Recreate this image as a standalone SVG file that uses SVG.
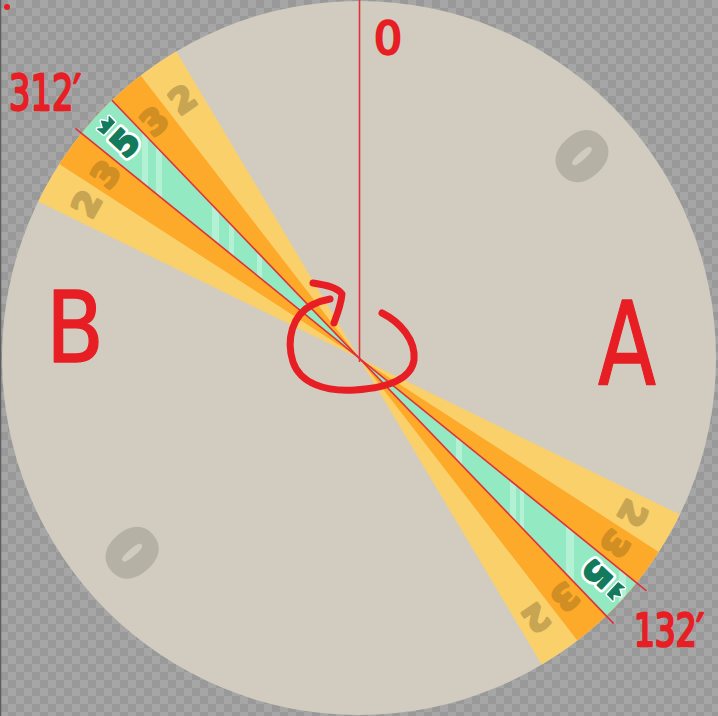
<svg xmlns="http://www.w3.org/2000/svg" width="718" height="716" viewBox="0 0 718 716">
<defs>
<pattern id="checker" width="16" height="16" patternUnits="userSpaceOnUse">
<rect width="16" height="16" fill="#a6a6a6"/>
<rect width="8" height="8" fill="#999999"/>
<rect x="8" y="8" width="8" height="8" fill="#999999"/>
</pattern>
<clipPath id="wheel"><circle cx="359" cy="358" r="357"/></clipPath>
<clipPath id="cyanClip"><path d="M359,358 L48.2,106.3 L82.2,69.3 Z M359,358 L669.8,609.7 L635.8,646.7 Z"/></clipPath>
<path id="crownShape" d="M-8,4.5 L-8.5,-3.5 L-4,0.5 L0,-6 L4,0.5 L8.5,-3.5 L8,4.5 Z"/>
</defs>
<style>
.num{font-family:"DejaVu Sans",Lato,sans-serif;font-weight:bold;text-anchor:middle;dominant-baseline:central;stroke-linejoin:round}
.n2{fill:#c8a552;stroke:#c8a552;stroke-width:3;font-size:34px}
.n3{fill:#d18e23;stroke:#d18e23;stroke-width:3;font-size:34px}
.n0{fill:#b5b1a5;stroke:#b5b1a5;stroke-width:7;font-size:64px}
.n5o{fill:#ffffff;stroke:#ffffff;stroke-width:8;font-size:34px}
.n5{fill:#137a5c;stroke:#137a5c;stroke-width:2.5;font-size:34px}
.crownO{fill:#ffffff;stroke:#ffffff;stroke-width:4;stroke-linejoin:round}
.crown{fill:#137a5c;stroke:#137a5c;stroke-width:1;stroke-linejoin:round}
.ann{font-family:"DejaVu Sans","Liberation Sans",sans-serif;fill:#e81e25;stroke:#e81e25;stroke-linejoin:round}
.redline{stroke:#e0303a;stroke-width:1.6;fill:none}
.stroke{stroke:#e81e25;stroke-width:7;fill:none;stroke-linecap:round;stroke-linejoin:round}
</style>

<rect width="718" height="716" fill="url(#checker)"/>
<line x1="0.5" y1="0" x2="0.5" y2="716" stroke="#5e5e5e" stroke-width="1.5"/>

<g id="wheel-base">
<circle cx="359" cy="358" r="357" fill="#d1ccbf"/>
</g>

<g id="bands" clip-path="url(#wheel)">
<path id="band-2" fill="#fad06a" d="M359,358 L-0.5,182.6 L154.2,14.4 Z M359,358 L718.5,533.4 L563.8,701.6 Z"/>
<path id="band-3" fill="#fdaa2a" d="M359,358 L23.2,140.7 L114.4,41.5 Z M359,358 L694.8,575.3 L603.6,674.5 Z"/>
<path id="band-5" fill="#92e9c2" d="M359,358 L48.2,106.3 L82.2,69.3 Z M359,358 L669.8,609.7 L635.8,646.7 Z"/>
<g clip-path="url(#cyanClip)" fill="#b3f1d4">
<rect x="142" y="0" width="6" height="716"/>
<rect x="156" y="0" width="6" height="716"/>
<rect x="212" y="0" width="7" height="716"/>
<rect x="229" y="0" width="5" height="716"/>
<rect x="257" y="0" width="5" height="716"/>
<rect x="456" y="0" width="6" height="716"/>
<rect x="510" y="0" width="6" height="716"/>
<rect x="520" y="0" width="4" height="716"/>
<rect x="566" y="0" width="8" height="716"/>
<rect x="619" y="0" width="7" height="716"/>
</g>
</g>

<g id="labels">
<text class="num n0" x="581" y="157" transform="rotate(47.8 581 157)">0</text>
<text class="num n0" x="133" y="552" transform="rotate(229.4 133 552)">0</text>
<text class="num n2" x="182.6" y="99.4" transform="rotate(325.7 182.6 99.4)">2</text>
<text class="num n2" x="86.6" y="203.9" transform="rotate(299.5 86.6 203.9)">2</text>
<text class="num n3" x="154.5" y="121.1" transform="rotate(319.2 154.5 121.1)">3</text>
<text class="num n3" x="105.8" y="174" transform="rotate(306 105.8 174)">3</text>
<text class="num n2" x="536" y="618" transform="rotate(145.7 536 618)">2</text>
<text class="num n2" x="632.5" y="513.5" transform="rotate(119.5 632.5 513.5)">2</text>
<text class="num n3" x="565" y="597" transform="rotate(139.2 565 597)">3</text>
<text class="num n3" x="615" y="544" transform="rotate(126 615 544)">3</text>
<g id="label-5-upper" transform="translate(125 142.7) rotate(312.6)">
<use href="#crownShape" class="crownO" y="-26"/>
<text class="num n5o" x="0" y="0">5</text>
<use href="#crownShape" class="crown" y="-26"/>
<text class="num n5" x="0" y="0">5</text>
</g>
<g id="label-5-lower" transform="translate(597 574) rotate(132.6)">
<use href="#crownShape" class="crownO" y="-26"/>
<text class="num n5o" x="0" y="0">5</text>
<use href="#crownShape" class="crown" y="-26"/>
<text class="num n5" x="0" y="0">5</text>
</g>
</g>

<g id="connectors">
<line class="redline" x1="359.5" y1="0" x2="359.5" y2="362"/>
<line class="redline" x1="75.4" y1="128.3" x2="646.5" y2="590.8"/>
<line class="redline" x1="111.9" y1="100.3" x2="613.7" y2="623.6"/>
<path id="rotation-arrow" class="stroke" d="M382,313 C400,322 416,340 414,360 C411,380 385,388 355,390 C325,392 300,383 293,362 C286,340 292,315 312,305 C318,302 324,300 330,299"/>
<path id="rotation-arrowhead" class="stroke" d="M313,283 C325,285 337,287 342,294 C341,305 337,315 334,323"/>
</g>

<g id="annotations">
<circle cx="7" cy="7" r="3" fill="#e81e25"/>
<text class="ann" x="388" y="54" font-size="44" stroke-width="2.5" text-anchor="middle">0</text>
<text class="ann" x="9" y="110" font-size="50" stroke-width="2.5" textLength="72" lengthAdjust="spacingAndGlyphs">312′</text>
<text class="ann" transform="translate(634 646) scale(0.82 1.1)" x="0" y="0" font-size="40" stroke-width="2.5">132′</text>
<text class="ann" x="46" y="362" font-size="98" stroke-width="1.5" textLength="58" lengthAdjust="spacingAndGlyphs">B</text>
<text class="ann" x="598" y="385" font-size="116" stroke-width="1.5" textLength="58" lengthAdjust="spacingAndGlyphs">A</text>
</g>
</svg>
